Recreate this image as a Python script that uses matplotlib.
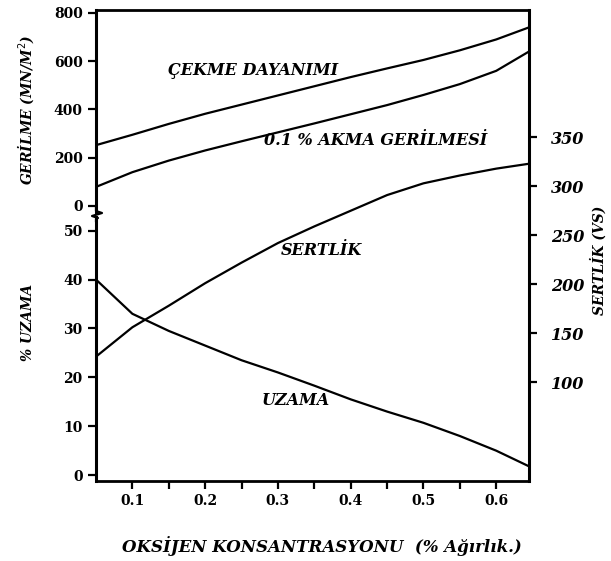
import matplotlib
matplotlib.use("Agg")
import matplotlib.pyplot as plt
from matplotlib.lines import Line2D

# oxygen concentration (% by weight)
x_vals = [0.05, 0.1, 0.15, 0.2, 0.25, 0.3, 0.35, 0.4, 0.45, 0.5, 0.55, 0.6, 0.645]

# stress curves (MN/m2)
cekme = [252, 295, 340, 382, 420, 458, 496, 534, 570, 605, 645, 690, 740]
akma = [79, 140, 188, 230, 268, 305, 342, 380, 418, 460, 505, 560, 640]

# elongation (%) and hardness (VS)
uzama = [40, 33, 29.5, 26.5, 23.5, 21, 18.3, 15.5, 13, 10.7, 8, 5, 1.8]
sertlik = [126, 156, 178, 201, 222, 242, 259, 275, 291, 303, 311, 318, 323]

upper_ticks = [0, 200, 400, 600, 800]
lower_ticks = [0, 10, 20, 30, 40, 50]
right_ticks = [100, 150, 200, 250, 300, 350]
x_ticks = [0.1, 0.2, 0.3, 0.4, 0.5, 0.6]
x_minor = [0.15, 0.25, 0.35, 0.45, 0.55]

W, H = 611, 561
fig = plt.figure(figsize=(W / 100, H / 100), dpi=100)

def box(x0, y0, x1, y1):
    # pixel box (top-left origin) -> figure fraction rect
    return [x0 / W, 1 - y1 / H, (x1 - x0) / W, (y1 - y0) / H]

def fpt(px, py):
    return px / W, 1 - py / H

font = "DejaVu Serif"
txt = dict(family=font, weight="bold", style="italic", color="black")
lw = 1.6

ax_up = fig.add_axes(box(96, 10, 529, 212))
ax_lo = fig.add_axes(box(96, 217, 529, 481))
ax_r = fig.add_axes(box(96, 10, 529, 481), sharex=ax_lo)
ax_r.patch.set_visible(False)

xlim = (0.05, 0.645)

# upper panel
ax_up.plot(x_vals, cekme, color="black", lw=lw)
ax_up.plot(x_vals, akma, color="black", lw=lw)
ax_up.set_xlim(*xlim)
ax_up.set_ylim(-25, 812)
ax_up.set_yticks(upper_ticks)
ax_up.set_xticks([])
for s in ["right", "bottom"]:
    ax_up.spines[s].set_visible(False)
ax_up.spines["top"].set_linewidth(2)
ax_up.spines["left"].set_linewidth(2.2)
ax_up.set_ylabel("GERİLME (MN/M$^2$)", fontsize=10, **txt)
ax_up.yaxis.set_label_coords(*fpt(36, 110), transform=fig.transFigure)

# lower panel
ax_lo.plot(x_vals, uzama, color="black", lw=lw)
ax_lo.set_xlim(*xlim)
ax_lo.set_ylim(-1.2, 52.8)
ax_lo.set_yticks(lower_ticks)
ax_lo.set_xticks(x_ticks)
ax_lo.set_xticks(x_minor, minor=True)
for s in ["right", "top"]:
    ax_lo.spines[s].set_visible(False)
ax_lo.spines["left"].set_linewidth(2.2)
ax_lo.spines["bottom"].set_linewidth(2)
ax_lo.set_ylabel("% UZAMA", fontsize=10, **txt)
ax_lo.yaxis.set_label_coords(*fpt(35, 322), transform=fig.transFigure)
ax_lo.set_xlabel("OKSİJEN KONSANTRASYONU  (% Ağırlık.)", fontsize=12, **txt)
ax_lo.xaxis.set_label_coords(*fpt(322, 536), transform=fig.transFigure)

# right hardness axis spanning full height
ax_r.plot(x_vals, sertlik, color="black", lw=lw)
ax_r.set_ylim(-1, 480)
ax_r.yaxis.tick_right()
ax_r.yaxis.set_label_position("right")
ax_r.set_yticks(right_ticks)
ax_r.tick_params(axis="x", which="both", bottom=False, labelbottom=False)
for s in ["left", "top", "bottom"]:
    ax_r.spines[s].set_visible(False)
ax_r.spines["right"].set_linewidth(2.2)
ax_r.set_ylabel("SERTLİK (VS)", fontsize=10, rotation=90, **txt)
ax_r.yaxis.set_label_coords(*fpt(590, 260), transform=fig.transFigure)

for a in (ax_up, ax_lo, ax_r):
    a.tick_params(which="both", direction="out", length=6, width=1.6)
    for lab in a.get_yticklabels() + a.get_xticklabels():
        lab.set_fontfamily(font)
        lab.set_fontweight("bold")
        lab.set_fontsize(10)
ax_r.tick_params(axis="y", pad=10)
for lab in ax_r.get_yticklabels():
    lab.set_fontstyle("italic")
    lab.set_fontsize(11.5)

# curve labels
ax_up.text(0.266, 563, "ÇEKME DAYANIMI", fontsize=11.5, ha="center", va="center", **txt)
ax_up.text(0.434, 273, "0.1 % AKMA GERİLMESİ", fontsize=11.5, ha="center", va="center", **txt)
ax_lo.text(0.36, 46, "SERTLİK", fontsize=11.5, ha="center", va="center", **txt)
ax_lo.text(0.324, 15.3, "UZAMA", fontsize=11.5, ha="center", va="center", **txt)

# axis break mark on left spine
bx = [96, 96, 102, 92, 98, 96, 96]
by = [208, 211, 213, 216, 218, 219, 221]
fig.add_artist(Line2D([v / W for v in bx], [1 - v / H for v in by],
                      transform=fig.transFigure, color="black", lw=1.6))

fig.savefig("out.png", dpi=100, facecolor="white")
